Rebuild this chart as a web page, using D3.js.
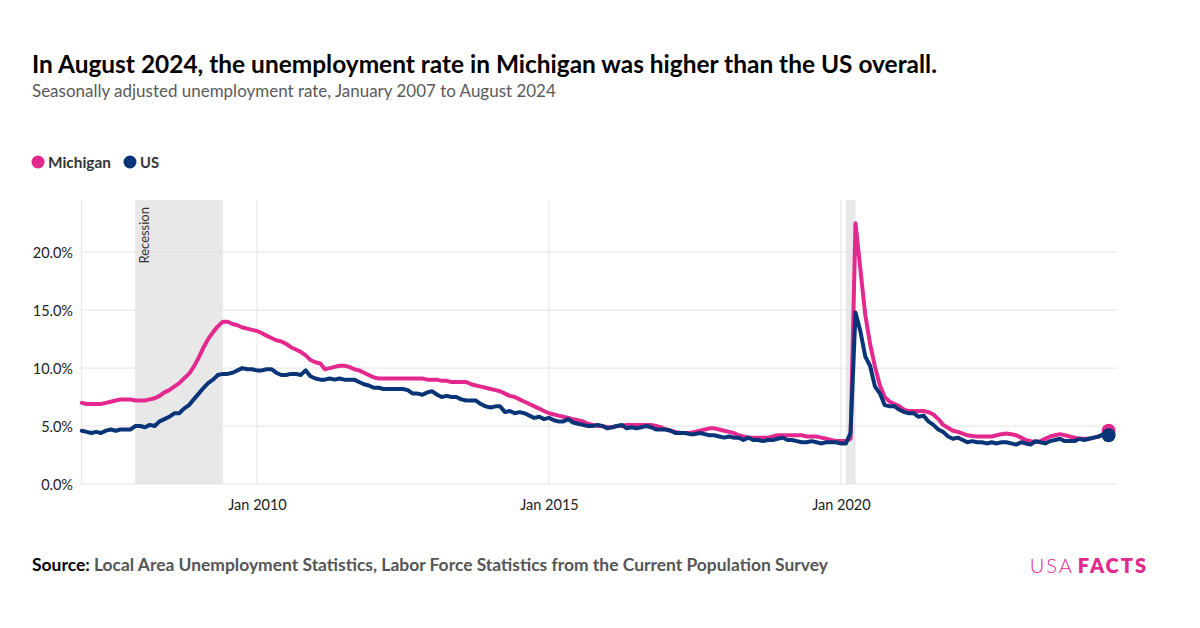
<!DOCTYPE html>
<html><head><meta charset="utf-8">
<script src="https://cdn.jsdelivr.net/npm/d3@7"></script>
<style>
body{margin:0;background:#fff}
svg{display:block}
text{font-family:"Source Sans Pro","Lato","Open Sans",sans-serif}
</style>
</head><body>
<svg id="c" width="1200" height="628"></svg>
<script>
// ---- DATA ----
const titleText = "In August 2024, the unemployment rate in Michigan was higher than the US overall.";
const subtitleText = "Seasonally adjusted unemployment rate, January 2007 to August 2024";
const seriesNames = ["Michigan", "US"];
const firstMonth = "2007-01";
const michigan = [
  7.0,6.9,6.9,6.9,6.9,7.0,7.1,7.2,7.3,7.3,7.3,7.2,
  7.2,7.2,7.3,7.4,7.6,7.9,8.1,8.4,8.7,9.1,9.5,10.1,
  10.9,11.8,12.5,13.1,13.6,14.0,14.0,13.8,13.7,13.5,13.4,13.3,
  13.2,13.0,12.8,12.6,12.4,12.3,12.1,11.8,11.6,11.4,11.1,10.7,
  10.5,10.4,9.9,10.0,10.1,10.2,10.2,10.1,9.9,9.8,9.6,9.4,
  9.2,9.1,9.1,9.1,9.1,9.1,9.1,9.1,9.1,9.1,9.1,9.0,
  9.0,9.0,8.9,8.9,8.8,8.8,8.8,8.8,8.6,8.5,8.4,8.3,
  8.2,8.1,8.0,7.8,7.6,7.5,7.3,7.1,6.9,6.7,6.5,6.3,
  6.1,6.0,5.9,5.8,5.7,5.6,5.5,5.4,5.2,5.1,5.0,5.0,
  4.9,4.9,5.0,5.0,5.1,5.1,5.1,5.1,5.1,5.1,5.0,4.9,
  4.7,4.6,4.5,4.4,4.4,4.4,4.5,4.6,4.7,4.8,4.8,4.7,
  4.6,4.5,4.4,4.2,4.1,4.0,4.0,4.0,4.0,4.0,4.1,4.2,
  4.2,4.2,4.2,4.2,4.2,4.1,4.1,4.1,4.0,3.9,3.8,3.7,
  3.7,3.7,3.9,22.5,18.6,14.6,12.1,10.1,8.5,7.5,7.1,6.9,
  6.7,6.4,6.3,6.3,6.3,6.3,6.2,6.0,5.6,5.1,4.85,4.6,
  4.5,4.35,4.2,4.15,4.1,4.1,4.1,4.1,4.2,4.3,4.35,4.3,
  4.2,4.0,3.8,3.7,3.6,3.7,3.9,4.1,4.2,4.3,4.2,4.1,
  4.0,3.9,3.9,3.9,4.0,4.1,4.3,4.6
];
const us = [
  4.6,4.5,4.4,4.5,4.4,4.6,4.7,4.6,4.7,4.7,4.7,5.0,
  5.0,4.9,5.1,5.0,5.4,5.6,5.8,6.1,6.1,6.5,6.8,7.3,
  7.8,8.3,8.7,9.0,9.4,9.5,9.5,9.6,9.8,10.0,9.9,9.9,
  9.8,9.8,9.9,9.9,9.6,9.4,9.4,9.5,9.5,9.4,9.8,9.3,
  9.1,9.0,9.0,9.1,9.0,9.1,9.0,9.0,9.0,8.8,8.6,8.5,
  8.3,8.3,8.2,8.2,8.2,8.2,8.2,8.1,7.8,7.8,7.7,7.9,
  8.0,7.7,7.5,7.6,7.5,7.5,7.3,7.2,7.2,7.2,6.9,6.7,
  6.6,6.7,6.7,6.2,6.3,6.1,6.2,6.1,5.9,5.7,5.8,5.6,
  5.7,5.5,5.4,5.4,5.6,5.3,5.2,5.1,5.0,5.0,5.1,5.0,
  4.8,4.9,5.0,5.1,4.8,4.9,4.8,4.9,5.0,4.9,4.7,4.7,
  4.7,4.6,4.4,4.4,4.4,4.3,4.3,4.4,4.3,4.2,4.2,4.1,
  4.0,4.1,4.0,4.0,3.8,4.0,3.8,3.8,3.7,3.8,3.8,3.9,
  4.0,3.8,3.8,3.7,3.6,3.6,3.7,3.6,3.5,3.6,3.6,3.6,
  3.5,3.5,4.4,14.8,13.2,11.0,10.2,8.4,7.8,6.8,6.7,6.7,
  6.4,6.2,6.1,6.1,5.8,5.9,5.4,5.1,4.7,4.5,4.1,3.9,
  4.0,3.8,3.6,3.7,3.6,3.6,3.5,3.6,3.5,3.6,3.6,3.5,
  3.4,3.6,3.5,3.4,3.7,3.6,3.5,3.7,3.8,3.9,3.7,3.7,
  3.7,3.9,3.8,3.9,4.0,4.1,4.3,4.2
];
const yTickValues = [0, 5, 10, 15, 20];
const xTickMonths = ["2010-01", "2015-01", "2020-01"];
const recessionStarts = ["2007-12", "2020-02"];
const recessionEnds = ["2009-06", "2020-04"];
const recessionLabel = "Recession";
const sourceLabel = "Source:";
const sourceText = " Local Area Unemployment Statistics, Labor Force Statistics from the Current Population Survey";

// ---- CHART ----
const svg = d3.select("#c");
const parseM = d3.timeParse("%Y-%m");
const start = parseM(firstMonth);
const dates = michigan.map((_, i) => d3.timeMonth.offset(start, i));
const colors = {Michigan: "#e3298d", US: "#0a3478"};

const plotLeft = 81.8, plotRight = 1117, plotTop = 200, plotBottom = 484;
const x = d3.scaleTime().domain([dates[0], dates[dates.length - 1]]).range([plotLeft, 1108.6]);
const y = d3.scaleLinear().domain([0, 24.5]).range([plotBottom, plotTop]);

// fit helper
function fit(sel, target) {
  const n = sel.node();
  const w = n.getComputedTextLength();
  const fs = parseFloat(sel.attr("font-size"));
  sel.attr("font-size", (fs * target / w).toFixed(2));
}

// Title
fit(svg.append("text").attr("x", 32).attr("y", 73).attr("font-size", 23).attr("font-weight", 700)
  .attr("fill", "#000").text(titleText), 905);
fit(svg.append("text").attr("x", 32).attr("y", 97).attr("font-size", 17).attr("fill", "#5a5a5a")
  .text(subtitleText), 524);

// Legend
const lg = svg.append("g");
const legendX = [38, 130];
seriesNames.forEach((s, i) => {
  lg.append("circle").attr("cx", legendX[i]).attr("cy", 162).attr("r", 6.5).attr("fill", colors[s]);
  const t = lg.append("text").attr("x", legendX[i] + 10).attr("y", 167.5).attr("font-size", 15)
    .attr("font-weight", 700).attr("fill", "#333").text(s);
  fit(t, i === 0 ? 63 : 19);
});

// Recession shading
recessionStarts.forEach((s, i) => {
  const x0 = x(parseM(s)), x1 = x(parseM(recessionEnds[i]));
  svg.append("rect").attr("x", x0).attr("y", plotTop).attr("width", x1 - x0)
    .attr("height", plotBottom - plotTop).attr("fill", "#e8e8e8");
});

// Grid
svg.append("g").selectAll("line").data(yTickValues).join("line")
  .attr("x1", plotLeft - 1).attr("x2", plotRight)
  .attr("y1", d => y(d)).attr("y2", d => y(d))
  .attr("stroke", "#e3e3e3").attr("stroke-width", 1);
svg.append("g").selectAll("line").data(xTickMonths).join("line")
  .attr("x1", d => x(parseM(d))).attr("x2", d => x(parseM(d)))
  .attr("y1", plotTop).attr("y2", plotBottom)
  .attr("stroke", "#e3e3e3").attr("stroke-width", 1);
svg.append("line").attr("x1", plotLeft - 0.5).attr("x2", plotLeft - 0.5)
  .attr("y1", plotTop).attr("y2", plotBottom).attr("stroke", "#e3e3e3");

// Recession label
const rl = recessionStarts[0];
svg.append("text").attr("transform", `translate(${x(parseM(rl)) + 14},${plotTop + 7}) rotate(-90)`)
  .attr("text-anchor", "end").attr("font-size", 13).attr("fill", "#333").text(recessionLabel);

// Y axis
const yAxis = d3.axisLeft(y).tickValues(yTickValues).tickFormat(d => d3.format(".1f")(d) + "%").tickSize(0).tickPadding(0);
const ya = svg.append("g").attr("transform", `translate(73,0)`).call(yAxis);
ya.select(".domain").remove();
ya.selectAll("text").attr("font-size", 14.5).attr("fill", "#222").attr("font-family", null).attr("dy", "0.36em");

// X axis
const xAxis = d3.axisBottom(x).tickValues(xTickMonths.map(parseM)).tickFormat(d3.timeFormat("Jan %Y")).tickSize(0).tickPadding(0);
const xa = svg.append("g").attr("transform", `translate(0,${plotBottom + 16})`).call(xAxis);
xa.select(".domain").remove();
xa.selectAll("text").attr("font-size", 14.5).attr("fill", "#222").attr("font-family", null).attr("dy", "0.71em");

// Lines
const line = d3.line().x((d, i) => x(dates[i])).y(d => y(d)).curve(d3.curveLinear);
[["Michigan", michigan], ["US", us]].forEach(([name, vals]) => {
  svg.append("path").datum(vals).attr("d", line).attr("fill", "none")
    .attr("stroke", colors[name]).attr("stroke-width", 4).attr("stroke-linejoin", "round").attr("stroke-linecap", "round");
});
[["Michigan", michigan], ["US", us]].forEach(([name, vals]) => {
  const n = vals.length - 1;
  svg.append("circle").attr("cx", x(dates[n])).attr("cy", y(vals[n])).attr("r", 7).attr("fill", colors[name]);
});

// Source
const src = svg.append("text").attr("x", 32).attr("y", 571).attr("font-size", 17).attr("font-weight", 700);
src.append("tspan").attr("fill", "#000").text(sourceLabel);
src.append("tspan").attr("fill", "#555").text(sourceText);
fit(src, 796);

// Logo
const logo = svg.append("text").attr("x", 1148).attr("y", 573).attr("text-anchor", "end")
  .attr("font-size", 20).attr("letter-spacing", 2).attr("fill", "#e3298d");
logo.append("tspan").attr("font-weight", 300).text("USA");
logo.append("tspan").attr("font-weight", 800).attr("dx", 4).text("FACTS");
</script>
</body></html>
